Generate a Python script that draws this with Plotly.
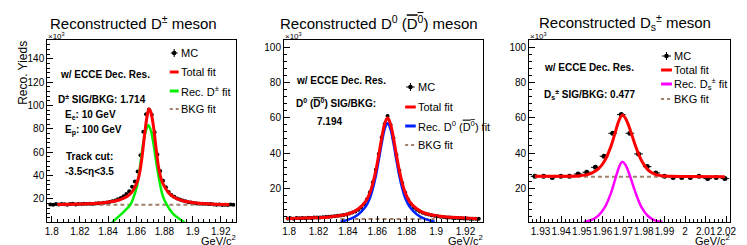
import plotly.graph_objects as go

W, H = 747, 245
FONT = "Liberation Sans, Arial, Helvetica, sans-serif"

# ---------------- Panel 1 : D+- ----------------
dp_x = [1.799 + 0.002 * i for i in range(66)]
dp_y = [15.3, 15.0, 15.6, 15.2, 15.8, 15.4, 15.1, 15.6, 15.9, 15.3, 15.7, 15.5, 15.9, 15.6,
        16.0, 15.8, 16.2, 16.4, 16.1, 16.7, 17.0, 17.4, 18.0, 18.6, 19.7, 20.8, 22.4, 24.3,
        26.5, 30.4, 35.0, 43.5, 57.5, 77.5, 92.5, 96.5, 92.0, 77.0, 58.0, 44.0, 35.5, 30.0,
        26.0, 23.5, 22.0, 20.5, 19.5, 18.6, 18.0, 17.3, 16.9, 16.6, 16.2, 16.0, 15.9, 15.6,
        15.4, 15.7, 15.2, 15.0, 15.3, 14.9, 15.1, 14.8, 15.2, 15.0]
dp_tot_x = [1.804, 1.82, 1.83, 1.838, 1.845, 1.85, 1.854, 1.857, 1.86, 1.862, 1.864, 1.866,
            1.868, 1.869, 1.870, 1.872, 1.874, 1.876, 1.878, 1.881, 1.884, 1.888, 1.893,
            1.9, 1.91, 1.926]
dp_tot_y = [15.3, 15.6, 16.1, 16.9, 18.2, 20.0, 22.5, 26.0, 32.5, 40.0, 55.0, 76.0,
            93.0, 97.0, 95.5, 84.0, 64.0, 46.0, 36.0, 28.5, 24.0, 20.8, 18.5,
            17.0, 15.9, 15.2]
dp_sig_x = [1.8428, 1.847, 1.852, 1.856, 1.858, 1.8605, 1.8627, 1.865, 1.867, 1.8685,
            1.870, 1.872, 1.8745, 1.877, 1.879, 1.8815, 1.886, 1.8943]
dp_sig_y = [0.0, 4.5, 10.0, 15.5, 21.0, 31.0, 48.0, 68.0, 79.0, 83.0,
            80.0, 69.0, 49.0, 32.0, 22.0, 15.5, 7.5, 0.0]
dp_bkg_x = [1.804, 1.926]
dp_bkg_y = [15.0, 15.0]

# ---------------- Panel 2 : D0 ----------------
d0_x = [1.799 + 0.002 * i for i in range(66)]
d0_y = [2.9, 3.0, 2.8, 3.1, 3.0, 3.2, 3.0, 3.3, 3.2, 3.4, 3.5, 3.4, 3.6, 3.7, 3.9, 4.0,
        4.2, 4.4,
        4.6, 4.8, 5.2, 5.7, 6.3, 6.9, 7.9, 9.0, 11.0, 13.8, 17.8, 23.5, 30.5, 39.5, 49.0, 56.5,
        61.0,
        56.0, 48.5, 39.0, 30.0, 23.0, 17.5, 13.5, 10.8, 9.0, 7.8, 6.9, 6.2, 5.6, 5.1, 4.7,
        4.4, 4.1, 3.9, 3.7, 3.5, 3.4, 3.3, 3.2, 3.1, 3.0, 2.9, 2.9, 2.8, 2.7, 2.8, 2.7]
d0_tot_x = [1.798, 1.807, 1.817, 1.827, 1.837, 1.842, 1.847, 1.852, 1.855, 1.857, 1.859,
            1.861, 1.863, 1.865, 1.867, 1.869, 1.871, 1.873, 1.875, 1.877, 1.879, 1.882,
            1.887, 1.892, 1.897, 1.907, 1.917, 1.928]
d0_tot_y = [2.9, 3.0, 3.3, 3.8, 4.9, 6.0, 8.3, 12.5, 17.5, 23.0, 30.0,
            39.0, 48.5, 56.5, 60.0, 56.5, 48.5, 39.0, 30.0, 23.0, 17.5, 12.5,
            8.3, 6.0, 4.9, 3.8, 3.3, 2.8]
d0_sig_x = [1.835, 1.842, 1.847, 1.852, 1.855, 1.857, 1.859, 1.861, 1.863, 1.865, 1.867,
            1.869, 1.871, 1.873, 1.875, 1.877, 1.879, 1.882, 1.887, 1.892, 1.899]
d0_sig_y = [1.0, 2.8, 5.2, 9.5, 14.5, 20.0, 27.0, 36.0, 45.5, 53.5, 57.0,
            53.5, 45.5, 36.0, 27.0, 20.0, 14.5, 9.5, 5.2, 2.8, 1.0]
d0_bkg_x = [1.835, 1.899]
d0_bkg_y = [2.6, 2.6]

# ---------------- Panel 3 : Ds ----------------
ds_x = [1.9273 + 0.00418 * i for i in range(23)]
ds_y = [26.8, 26.8, 26.2, 26.8, 26.8, 28.1, 29.1, 31.9, 38.2, 51.2, 61.8, 51.2,
        39.5, 32.3, 28.7, 26.8, 26.2, 26.2, 26.2, 26.8, 25.5, 26.2, 25.5]
ds_tot_x = [1.9273, 1.94, 1.948, 1.952, 1.955, 1.958, 1.961, 1.964, 1.966, 1.968,
            1.9695, 1.971, 1.973, 1.976, 1.979, 1.982, 1.985, 1.988, 1.993, 2.0, 2.0192]
ds_tot_y = [26.9, 26.8, 27.0, 27.6, 28.8, 31.0, 35.5, 43.5, 51.0, 58.5,
            61.5, 60.0, 54.5, 44.0, 35.5, 30.5, 28.2, 27.2, 26.8, 26.7, 26.6]
ds_sig_x = [1.951, 1.955, 1.958, 1.961, 1.964, 1.966, 1.968, 1.9695, 1.971, 1.973,
            1.976, 1.979, 1.982, 1.985, 1.989]
ds_sig_y = [0.9, 2.2, 4.5, 9.0, 17.0, 24.5, 32.0, 35.0, 33.5, 28.0,
            17.5, 9.0, 4.3, 2.0, 0.9]
ds_bkg_x = [1.9273, 2.0192]
ds_bkg_y = [26.6, 26.6]

# ---------------- layout geometry (pixels) ----------------
frames = [(37.7, 228.3), (277.3, 478.3), (525.5, 728.3)]
f_top, f_bot = 32.0, 214.0
xranges = [[1.7968, 1.9305], [1.7965, 1.9316], [1.9245, 2.0215]]
yranges = [[0.3, 156.0], [0.9, 104.1], [0.9, 104.1]]


def X(px):
    return px / W


def Y(py):
    return 1 - py / H


fig = go.Figure()
BKG_COL = "#a0806a"

panels = [
    (dp_x, dp_y, 0.001, dp_tot_x, dp_tot_y, dp_sig_x, dp_sig_y, "#00ee00", dp_bkg_x, dp_bkg_y, 4),
    (d0_x, d0_y, 0.001, d0_tot_x, d0_tot_y, d0_sig_x, d0_sig_y, "#0022ff", d0_bkg_x, d0_bkg_y, 4),
    (ds_x, ds_y, 0.00209, ds_tot_x, ds_tot_y, ds_sig_x, ds_sig_y, "#ff00ff", ds_bkg_x, ds_bkg_y, 5),
]
for i, (mx, my, hb, tx, ty, sx, sy, scol, bx, by, msz) in enumerate(panels):
    xa = "x" if i == 0 else f"x{i+1}"
    ya = "y" if i == 0 else f"y{i+1}"
    fig.add_trace(go.Scatter(x=mx, y=my, mode="markers", xaxis=xa, yaxis=ya,
                             marker=dict(color="black", size=msz),
                             error_x=dict(type="constant", value=hb, thickness=1, width=0, color="black"),
                             error_y=dict(type="constant", value=0.8, thickness=1, width=0, color="black"),
                             showlegend=False))
    fig.add_trace(go.Scatter(x=bx, y=by, mode="lines", xaxis=xa, yaxis=ya,
                             line=dict(color=BKG_COL, width=2, dash="4px,3px"), showlegend=False))
    fig.add_trace(go.Scatter(x=sx, y=sy, mode="lines", xaxis=xa, yaxis=ya, line_shape="spline",
                             line=dict(color=scol, width=2.5), showlegend=False))
    fig.add_trace(go.Scatter(x=tx, y=ty, mode="lines", xaxis=xa, yaxis=ya, line_shape="spline",
                             line=dict(color="#ff0000", width=3), showlegend=False))

xdt = [(0.02, 0.004), (0.02, 0.004), (0.01, 0.002)]
for i in range(3):
    l, r = frames[i]
    sfx = "" if i == 0 else str(i + 1)
    common = dict(showline=True, linecolor="black", linewidth=1, mirror=True,
                  ticks="inside", ticklen=6, tickcolor="black", showgrid=False, zeroline=False,
                  tickfont=dict(family=FONT, size=10, color="black"))
    fig.layout["xaxis" + sfx] = dict(domain=[X(l), X(r)], range=xranges[i], anchor="y" + sfx,
                                     tickmode="linear", tick0=1.8, dtick=xdt[i][0], tickangle=0,
                                     minor=dict(dtick=xdt[i][1], ticks="inside", ticklen=3, tickcolor="black"),
                                     **common)
    fig.layout["yaxis" + sfx] = dict(domain=[Y(f_bot), Y(f_top)], range=yranges[i], anchor="x" + sfx,
                                     tickmode="linear", tick0=0, dtick=20,
                                     minor=dict(dtick=4, ticks="inside", ticklen=3, tickcolor="black"),
                                     **common)

ann = []
shapes = []


def txt(x, y, s, size=10, bold=False, xanchor="left", yanchor="middle", angle=0):
    if bold:
        s = "<b>" + s + "</b>"
    ann.append(dict(x=X(x), y=Y(y), xref="paper", yref="paper", text=s, showarrow=False,
                    xanchor=xanchor, yanchor=yanchor, textangle=angle, borderpad=0,
                    font=dict(family=FONT, size=size, color="black")))


OVL = '<span style="text-decoration:overline">D<sup>0</sup></span>'

# titles
txt(125, 14, "Reconstructed D<sup>±</sup> meson", size=15, xanchor="center")
txt(373, 14, "Reconstructed D<sup>0</sup> (" + OVL + ") meson", size=15, xanchor="center")
txt(622, 14, "Reconstructed D<sub>s</sub><sup>±</sup> meson", size=15, xanchor="center")
for l, r in frames:
    txt(l, 28, "×10<sup>3</sup>", size=8, yanchor="middle")
    txt(r + 1, 240, "GeV/c<sup>2</sup>", size=11, xanchor="right", yanchor="bottom")
txt(13, 32, "Reco. Yieds", size=12, xanchor="center", yanchor="top", angle=-90)

# panel 1 texts
txt(50, 67, "w/ ECCE Dec. Res.", bold=True)
txt(48, 91, "D<sup>±</sup> SIG/BKG: 1.714", bold=True)
txt(55, 107, "E<sub>e</sub>: 10 GeV", bold=True)
txt(55, 122, "E<sub>p</sub>: 100 GeV", bold=True)
txt(56, 148, "Track cut:", bold=True)
txt(55, 163, "-3.5&lt;η&lt;3.5", bold=True)
# panel 2 texts
txt(288, 72, "w/ ECCE Dec. Res.", bold=True)
txt(288, 95, "D<sup>0</sup> (" + OVL + ") SIG/BKG:", bold=True)
txt(310, 113, "7.194", bold=True)
# panel 3 texts
txt(540, 59, "w/ ECCE Dec. Res.", bold=True)
txt(540, 86, "D<sub>s</sub><sup>±</sup> SIG/BKG: 0.477", bold=True)

# legends
legs = [
    (161.7, 170.7, [45, 64, 83, 101], "Rec. D<sup>±</sup> fit", "#00ee00"),
    (400.0, 410.7, [79, 99, 118, 137], "Rec. D<sup>0</sup> (" + OVL + ") fit", "#0022ff"),
    (659.0, 670.0, [48, 62, 76, 91], "Rec. D<sub>s</sub><sup>±</sup> fit", "#ff00ff"),
]
for x0, x1, ys, lab, col in legs:
    cx = (x0 + x1) / 2
    shapes.append(dict(type="line", xref="paper", yref="paper", x0=X(x0 + 1), x1=X(x1 - 1),
                       y0=Y(ys[0]), y1=Y(ys[0]), line=dict(color="black", width=1)))
    shapes.append(dict(type="line", xref="paper", yref="paper", x0=X(cx), x1=X(cx),
                       y0=Y(ys[0] - 4), y1=Y(ys[0] + 4), line=dict(color="black", width=1)))
    shapes.append(dict(type="circle", xref="paper", yref="paper", x0=X(cx - 2.3), x1=X(cx + 2.3),
                       y0=Y(ys[0] - 2.3), y1=Y(ys[0] + 2.3), fillcolor="black", line=dict(width=0)))
    shapes.append(dict(type="line", xref="paper", yref="paper", x0=X(x0), x1=X(x1),
                       y0=Y(ys[1]), y1=Y(ys[1]), line=dict(color="#ff0000", width=3)))
    shapes.append(dict(type="line", xref="paper", yref="paper", x0=X(x0), x1=X(x1),
                       y0=Y(ys[2]), y1=Y(ys[2]), line=dict(color=col, width=3)))
    shapes.append(dict(type="line", xref="paper", yref="paper", x0=X(x0), x1=X(x1),
                       y0=Y(ys[3]), y1=Y(ys[3]), line=dict(color=BKG_COL, width=2, dash="3px,3px")))
    tx0 = x1 + 1.5
    txt(tx0, ys[0], "MC", size=11)
    txt(tx0, ys[1], "Total fit", size=11)
    txt(tx0, ys[2], lab, size=11)
    txt(tx0, ys[3], "BKG fit", size=11)

fig.update_layout(width=W, height=H, margin=dict(l=0, r=0, t=0, b=0),
                  paper_bgcolor="white", plot_bgcolor="white",
                  annotations=ann, shapes=shapes, showlegend=False)
fig.write_html("out.html")
